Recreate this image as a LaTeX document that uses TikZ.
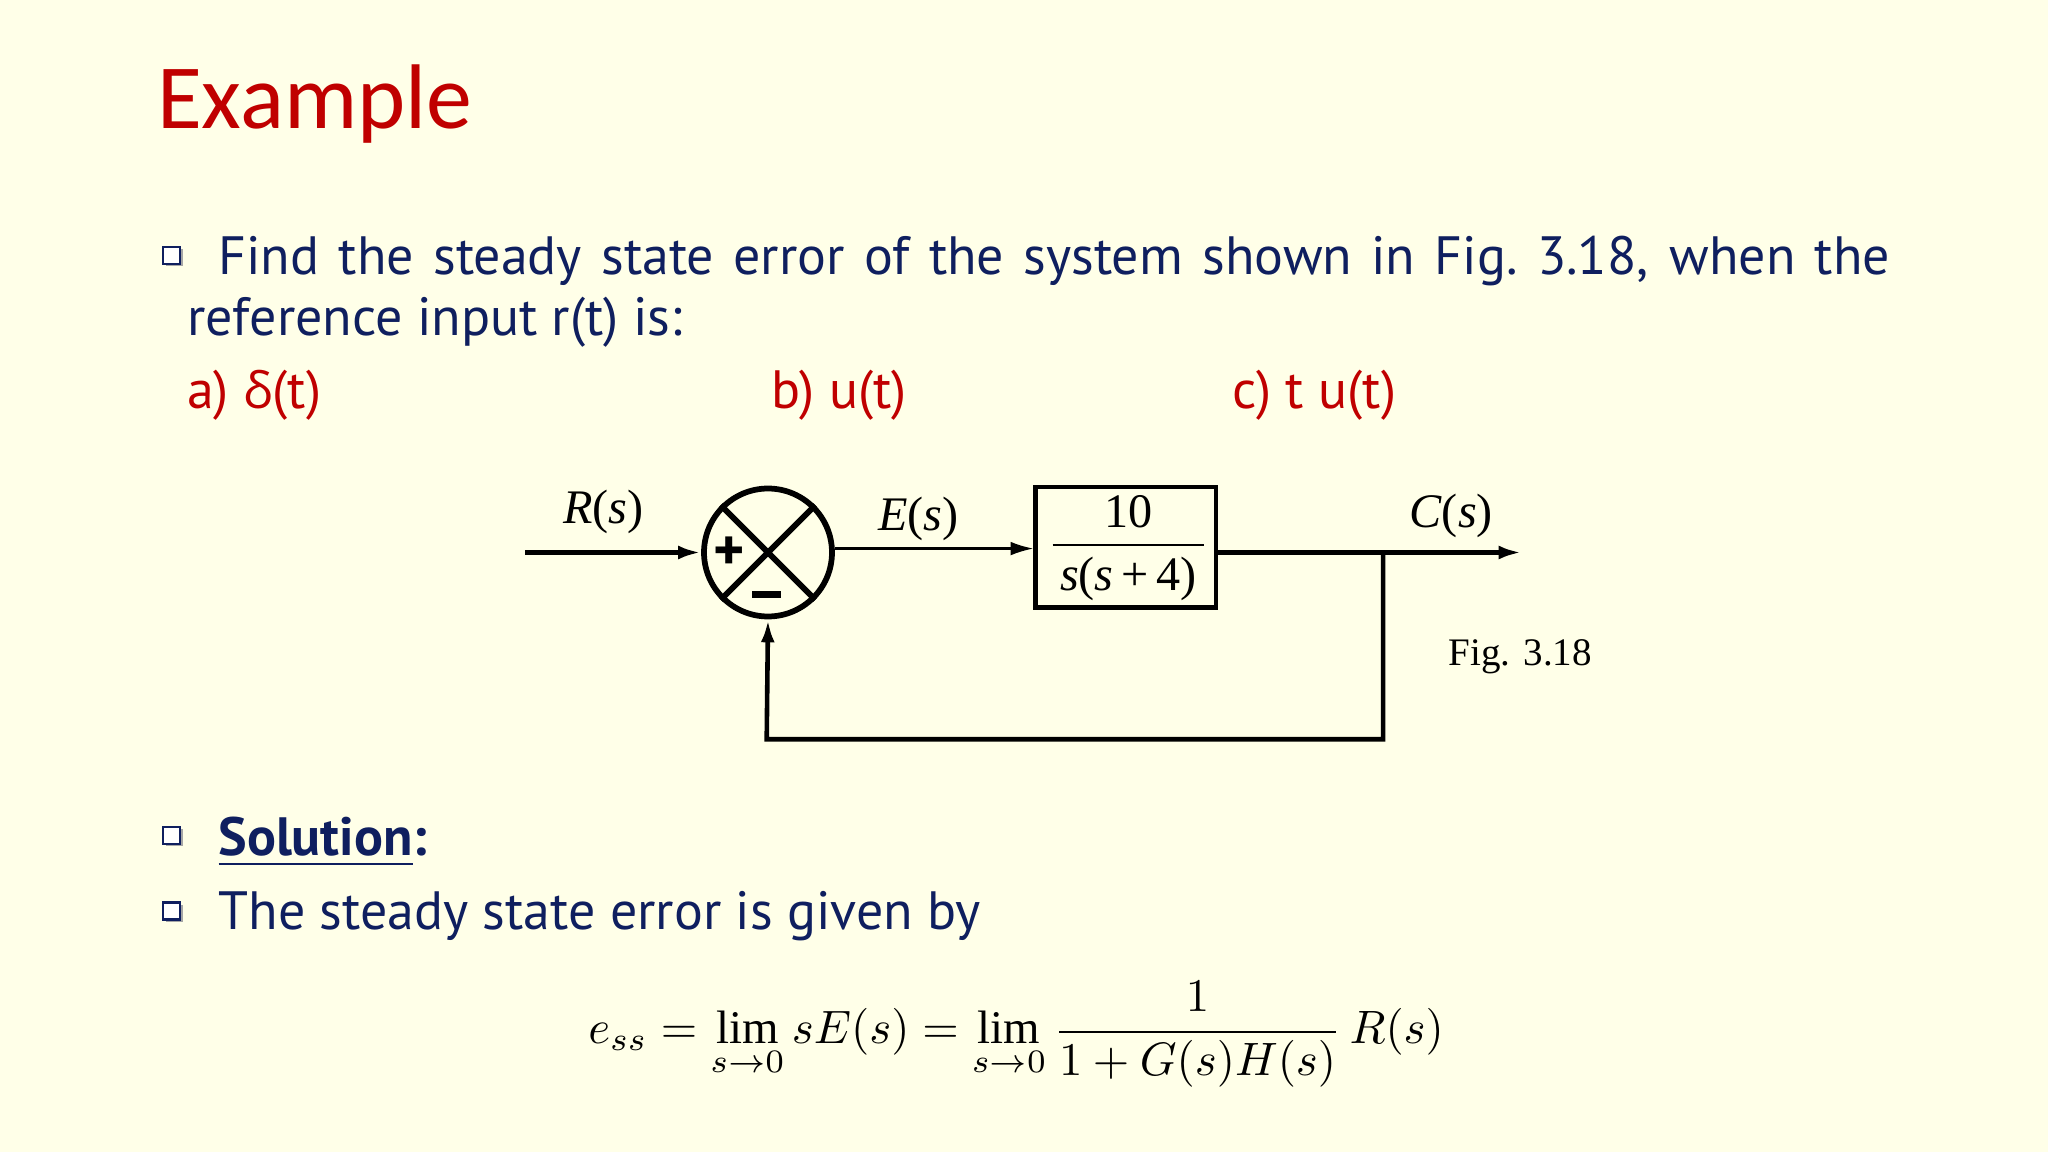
\documentclass[tikz,border=0pt]{standalone}
\usepackage{amsmath}
\usepackage{fontspec}
\setmainfont{PT Sans}
\newfontfamily\titlefont{Carlito}
\newfontfamily\serif{Liberation Serif}
\newfontfamily\greek{Open Sans}
\usetikzlibrary{arrows.meta}
\definecolor{bg}{HTML}{FFFFE8}
\definecolor{ttl}{HTML}{C00000}
\definecolor{navy}{HTML}{0F1F5F}
\tikzset{
  body/.style={anchor=base west,text=navy,font=\fontsize{23.5}{27}\selectfont,inner sep=0},
  opt/.style={anchor=base west,text=ttl,font=\fontsize{23.5}{27}\selectfont,inner sep=0},
  lbl/.style={font=\serif\fontsize{21}{25}\selectfont,inner sep=0},
  wire/.style={line width=2pt},
  tip/.style={-{Latex[length=10pt,width=6pt]}},
}
\newcommand{\bulletbox}[2]{%
  \fill[gray!70] (#1+2,#2+2) rectangle ++(13,13);
  \draw[navy,line width=1pt,fill=white] (#1,#2) rectangle ++(13,13);}
\newcommand{\mylim}{\mathop{\text{\serif lim}}\limits}
\begin{document}
\begin{tikzpicture}[x=0.02cm,y=-0.02cm]
\fill[bg] (0,0) rectangle (1568,882);
\useasboundingbox (0,0) rectangle (1568,882);
\node[anchor=base west,inner sep=0,text=ttl,font=\titlefont\fontsize{40}{44}\selectfont] (title) at (120,98) {Example};
\bulletbox{125}{189}
\node[body] (l1) at (167,210) {\makebox[25.6cm][s]{Find the steady state error of the system shown in Fig.\ 3.18, when the}};
\node[body] (l2) at (143,257) {reference input r(t) is:};
\node[opt] (a) at (143,313) {a) {\greek\fontsize{22}{26}\selectfont δ}(t)};
\node[opt] (b) at (590,313) {b) u(t)};
\node[opt] (c) at (943,313) {c) t u(t)};
% diagram
\node[circle,draw,line width=2.5pt,minimum size=1.96cm,inner sep=0] (sum) at (588,423) {};
\draw[line width=2.5pt] (sum.north west) -- (sum.south east) (sum.north east) -- (sum.south west);
\node[font=\bfseries\fontsize{26}{26}\selectfont,inner sep=0] (plus) at (558,424) {+};
\draw[line width=3pt] (576,455) -- (598,455);
\node[draw,line width=2pt,minimum width=2.76cm,minimum height=1.84cm,inner sep=0] (G) at (862,419) {};
\node[lbl] (num) at (864,392) {10};
\draw[line width=0.8pt] (806,417) -- (922,417);
\node[lbl] (den) at (864,443) {\textit{s}(\textit{s}\,+\,4)};
\coordinate (in) at (402,423);
\coordinate (out) at (1165,423);
\coordinate (br) at (1059,423);
\coordinate (c1) at (1059,566);
\coordinate (c2) at (587,566);
\draw[wire,tip] (in) -- (sum.west);
\draw[line width=1pt,tip] (sum.east) ++(0,-3) -- (G.west |- 420,420);
\draw[wire,tip] (G.east |- br) -- (out);
\draw[wire,tip] (br) -- (c1) -- (c2) -- (sum.south);
\node[lbl] (R) at (462,392) {\textit{R}(\textit{s})};
\node[lbl] (E) at (703,397) {\textit{E}(\textit{s})};
\node[lbl] (C) at (1111,395) {\textit{C}(\textit{s})};
\node[lbl,font=\serif\fontsize{17}{20}\selectfont] (fig) at (1164,503) {Fig. 3.18};
% solution
\bulletbox{125}{633}
\node[body,font=\bfseries\fontsize{23.5}{27}\selectfont] (sol) at (167,655) {\underline{Solution}:};
\bulletbox{125}{691}
\node[body] (l3) at (167,712) {The steady state error is given by};
\node[inner sep=0] (eq) at (778,792) {\resizebox{13.1cm}{!}{$e_{ss}=\mylim_{s\to0} sE(s)=\mylim_{s\to0}\dfrac{1}{1+G(s)H(s)}\,R(s)$}};
\end{tikzpicture}
\end{document}
